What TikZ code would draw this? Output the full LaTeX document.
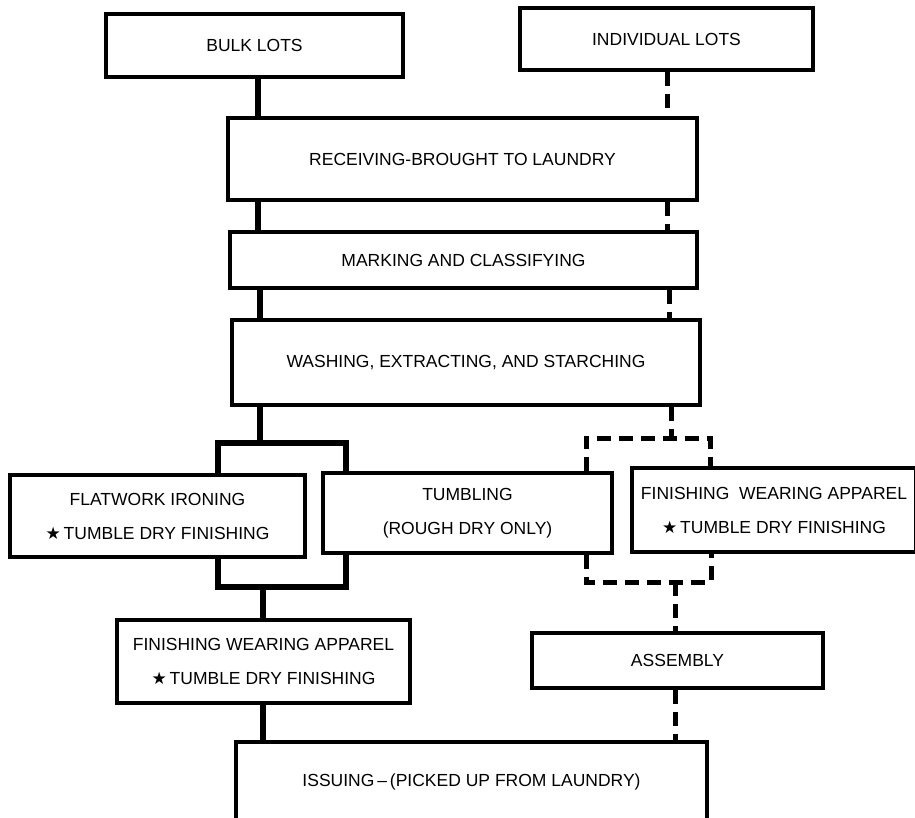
\documentclass[tikz,border=0pt]{standalone}
\usepackage{fontspec}
\setmainfont{Liberation Sans}
\newfontfamily\symfont{DejaVu Sans}
\newcommand{\starmark}{{\symfont\fontsize{17}{17}\selectfont ★}\,}
\begin{document}
\begin{tikzpicture}[x=1pt,y=-1pt,
  box/.style={draw, line width=3.2pt, rectangle, inner sep=0pt, align=center,
    font=\fontsize{17.5}{34}\selectfont},
  conn/.style={line width=5.5pt, line join=miter},
  dconn/.style={line width=5pt, dash pattern=on 14pt off 8pt, line join=miter}]
\useasboundingbox (0,0) rectangle (915,818);
\clip (0,0) rectangle (915,818);
% boxes
\node[box, minimum width=297pt, minimum height=63pt] (bulk) at (254.5,45.5) {BULK LOTS};
\node[box, minimum width=293pt, minimum height=62pt] (indiv) at (666.5,39) {INDIVIDUAL LOTS};
\node[box, minimum width=469pt, minimum height=82pt] (recv) at (462.5,159) {RECEIVING-BROUGHT TO LAUNDRY};
\node[box, minimum width=467pt, minimum height=56pt] (mark) at (463.5,260) {MARKING AND CLASSIFYING};
\node[box, minimum width=468pt, minimum height=85pt] (wash) at (466,362.5) {WASHING, EXTRACTING, AND STARCHING};
\node[box, minimum width=295pt, minimum height=82pt] (flat) at (157.5,516) {FLATWORK IRONING\\\starmark TUMBLE DRY FINISHING};
\node[box, minimum width=289pt, minimum height=80pt] (tumb) at (467.5,513) {TUMBLING\\(ROUGH DRY ONLY)};
\node[box, minimum width=284pt, minimum height=84pt] (finR) at (774,510) {FINISHING\ \ WEARING APPAREL\\\starmark TUMBLE DRY FINISHING};
\node[box, minimum width=291pt, minimum height=55pt] (asm) at (677.5,660.5) {ASSEMBLY};
\node[box, minimum width=293pt, minimum height=83pt] (finL) at (263.5,661.5) {FINISHING WEARING APPAREL\\\starmark TUMBLE DRY FINISHING};
\node[box, minimum width=471pt, minimum height=152pt, text depth=0pt] (issue) at (471.5,818) {};
\node[font=\fontsize{17.5}{34}\selectfont, anchor=base] (issuetext) at (471.5,786) {ISSUING\,--\,(PICKED UP FROM LAUNDRY)};
% column coordinates
\coordinate (lA) at (258,0);
\coordinate (lB) at (260,0);
\coordinate (lC) at (263,0);
\coordinate (bl) at (218,0);
\coordinate (br) at (346,0);
\coordinate (ljt) at (260,443);
\coordinate (ltr) at (346,443);
\coordinate (ljb) at (263,587);
\coordinate (lbr) at (346,587);
\coordinate (rA) at (667,0);
\coordinate (rB) at (669,0);
\coordinate (rC) at (675,0);
\coordinate (cl) at (586,0);
\coordinate (cr) at (710,0);
\coordinate (rjt) at (671,438);
\coordinate (rtr) at (710,438);
\coordinate (rjb) at (675,582);
\coordinate (rbr) at (711,582);
% solid (bulk) path
\draw[conn] (lA |- bulk.south) -- (lA |- recv.north);
\draw[conn] (lA |- recv.south) -- (lA |- mark.north);
\draw[conn] (lB |- mark.south) -- (lB |- wash.north);
\draw[conn] (lB |- wash.south) -- (ljt);
\draw[conn] (bl |- flat.north) |- (ltr) -- (br |- tumb.north);
\draw[conn] (bl |- flat.south) |- (lbr) -- (br |- tumb.south);
\draw[conn] (ljb) -- (lC |- finL.north);
\draw[conn] (lC |- finL.south) -- (lC |- issue.north);
% dashed (individual) path
\draw[dconn] (rA |- indiv.south) -- (rA |- recv.north);
\draw[dconn] (rA |- recv.south) -- (rA |- mark.north);
\draw[dconn] (rB |- mark.south) -- (rB |- wash.north);
\draw[dconn] (rjt |- wash.south) -- (rjt);
\draw[dconn] (cl |- tumb.north) |- (rtr) -- (cr |- finR.north);
\draw[dconn] (cl |- tumb.south) |- (rbr) -- (rbr |- finR.south);
\draw[dconn] (rjb) -- (rC |- asm.north);
\draw[dconn] (rC |- asm.south) -- (rC |- issue.north);
\end{tikzpicture}
\end{document}
